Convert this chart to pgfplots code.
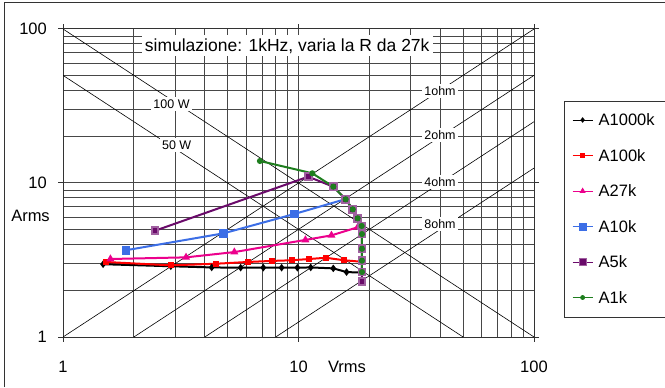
\documentclass[border=0pt]{standalone}
\usepackage{fontspec}
\setmainfont{Liberation Sans}
\usepackage{pgfplots}
\pgfplotsset{compat=1.18}
\definecolor{cblue}{HTML}{3C6EE6}
\definecolor{cpurple}{HTML}{6A0A6A}
\definecolor{cpurpleedge}{HTML}{A060A0}
\definecolor{cgreen}{HTML}{1E7E1E}
\begin{document}
\begin{tikzpicture}[x=1bp,y=1bp]
\useasboundingbox (0,0) rectangle (665,387);
\fill[white] (0,0) rectangle (665,387);
\draw[black!80, line width=1bp] (4,0) -- (4,384) -- (665,384);
\begin{axis}[
  at={(63bp,50bp)}, anchor=south west,
  scale only axis, width=471bp, height=308bp,
  xmode=log, ymode=log, xmin=1, xmax=100, ymin=1, ymax=100,
  xtick={1,10,100}, xticklabels={1,10,100},
  ytick={1,10,100}, yticklabels={1,10,100},
  minor xtick={2,3,...,9,20,30,...,90},
  minor ytick={2,3,...,9,20,30,...,90},
  grid=both,
  major grid style={black!72, line width=1bp},
  minor grid style={black!72, line width=1bp},
  tick align=outside, major tick length=5bp, minor tick length=0pt,
  tick style={black!80, line width=1bp},
  axis line style={black!80, line width=1bp},
  tick label style={font=\fontsize{16.5bp}{18bp}\selectfont},
  xticklabel style={inner sep=0pt, anchor=north, yshift=-19bp},
  yticklabel style={inner sep=0pt, anchor=east, xshift=-11bp},
  xlabel={Vrms},
  xlabel style={at={(axis description cs:0.603,-0.0974)}, anchor=center, font=\fontsize{16.5bp}{18bp}\selectfont},
  legend style={at={(axis description cs:1.0637,0.766)}, anchor=north west,
    draw=none, fill=white, font=\fontsize{16.5bp}{18bp}\selectfont,
    inner xsep=8bp, inner ysep=13bp, row sep=24bp, column sep=5.7bp,
    nodes={inner sep=0pt, text height=11.5bp, text depth=0pt}},
  legend cell align=left,
  legend image code/.code={\draw[mark repeat=2,mark phase=2,#1, line width=0.8bp] plot coordinates {(0bp,0bp) (10bp,0bp) (20bp,0bp)};},
]
% power and resistance lines
\addplot[black, line width=0.6bp, forget plot] coordinates {(1,100) (100,1)};
\addplot[black, line width=0.6bp, forget plot] coordinates {(1,50) (50,1)};
\addplot[black, line width=0.6bp, forget plot] coordinates {(1,1) (100,100)};
\addplot[black, line width=0.6bp, forget plot] coordinates {(2,1) (100,50)};
\addplot[black, line width=0.6bp, forget plot] coordinates {(4,1) (100,25)};
\addplot[black, line width=0.6bp, forget plot] coordinates {(8,1) (100,12.5)};
\node[fill=white, inner sep=2.5bp, font=\fontsize{12.5bp}{13bp}\selectfont] at (axis cs:2.89,32.6) {100 W};
\node[fill=white, inner sep=2.5bp, font=\fontsize{12.5bp}{13bp}\selectfont] at (axis cs:3.04,17.6) {50 W};
\node[fill=white, inner sep=2.5bp, font=\fontsize{12.5bp}{13bp}\selectfont] at (axis cs:39.9,39.6) {1ohm};
\node[fill=white, inner sep=2.5bp, font=\fontsize{12.5bp}{13bp}\selectfont] at (axis cs:39.9,20.5) {2ohm};
\node[fill=white, inner sep=2.5bp, font=\fontsize{12.5bp}{13bp}\selectfont] at (axis cs:39.9,10.15) {4ohm};
\node[fill=white, inner sep=2.5bp, font=\fontsize{12.5bp}{13bp}\selectfont] at (axis cs:39.9,5.42) {8ohm};
\node[fill=white, inner sep=3bp, font=\fontsize{17.5bp}{19bp}\selectfont] at (rel axis cs:0.476,0.945) {simulazione: 1kHz, varia la R da 27k};
% data
\addplot[black, line width=2bp, mark=diamond*, mark size=2.2bp] coordinates {
(1.48,2.97) (2.87,2.88) (4.28,2.83) (5.68,2.82) (7.09,2.82) (8.48,2.82) (9.89,2.82) (11.27,2.83) (14.05,2.79) (16.0,2.64) (18.55,2.62)};
\addlegendentry{A1000k}
\addplot[red, line width=2bp, mark=square*, mark size=1.9bp] coordinates {
(1.52,3.07) (2.87,2.92) (4.45,2.99) (6.09,3.07) (7.74,3.12) (9.36,3.15) (11.1,3.21) (13.05,3.27) (15.65,3.15) (18.55,3.08)};
\addlegendentry{A100k}
\addplot[magenta, line width=2bp, mark=triangle*, mark size=2.7bp] coordinates {
(1.59,3.21) (3.33,3.29) (5.34,3.56) (10.7,4.27) (13.8,4.57) (17.84,5.16)};
\addlegendentry{A27k}
\addplot[cblue, line width=2bp, mark=square*, mark size=3.4bp] coordinates {
(1.85,3.66) (4.80,4.71) (9.60,6.29) (15.75,7.84)};
\addlegendentry{A10k}
\addplot[cpurple, line width=2bp, mark=square*, mark size=3.4bp, mark options={fill=cpurple, draw=cpurpleedge}] coordinates {
(2.46,4.90) (11.0,10.99) (14.05,9.46) (15.86,7.84) (17.0,6.75) (17.84,5.90) (18.55,5.26) (18.6,4.66) (18.6,3.74) (18.6,3.13) (18.6,2.64) (18.6,2.29)};
\addlegendentry{A5k}
\addplot[cgreen, line width=2bp, mark=*, mark size=2bp] coordinates {
(6.86,13.9) (11.45,11.56) (14.05,9.46) (15.86,7.84) (17.0,6.75) (17.84,5.90) (18.55,5.26) (18.6,4.66) (18.6,3.74) (18.6,3.13) (18.6,2.64)};
\addlegendentry{A1k}
\end{axis}
\draw[black!80, line width=1bp] (564,70) rectangle (680,286);
\node[font=\fontsize{16.5bp}{18bp}\selectfont] at (30.5,171.3) {Arms};
\end{tikzpicture}
\end{document}
